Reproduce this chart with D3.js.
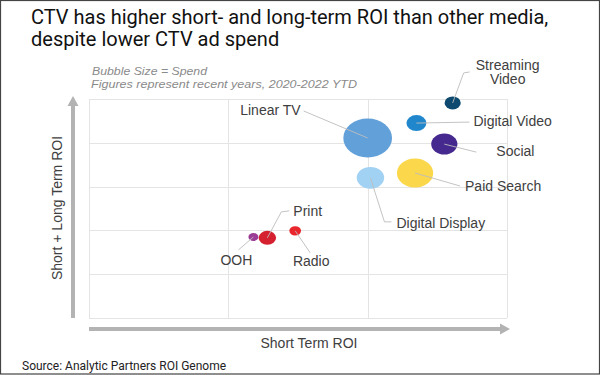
<!DOCTYPE html>
<html lang="en">
<head>
<meta charset="UTF-8">
<title>CTV ROI bubble chart</title>
<script src="https://cdnjs.cloudflare.com/ajax/libs/d3/7.8.5/d3.min.js"></script>
<style>
    body { margin: 0; background: #fff; }
    svg { display: block; }
    .title { font-family: Roboto, "Noto Sans", sans-serif; font-size: 20px; fill: #111; }
    .note { font-family: "Liberation Sans", Arial, sans-serif; font-style: italic; font-size: 11.5px; fill: #8a8a8a; }
    .lbl { font-family: "Liberation Sans", Arial, sans-serif; font-size: 14px; fill: #404040; }
    .source { font-family: Roboto, "Noto Sans", sans-serif; font-size: 12px; fill: #222; }
</style>
</head>
<body>
<svg id="chart"></svg>
<script>
// Data
const media = ["Linear TV", "Streaming Video", "Digital Video", "Social", "Paid Search",
               "Digital Display", "Print", "OOH", "Radio"];
const shortRoi = [2.0, 2.61, 2.35, 2.55, 2.34, 2.02, 1.28, 1.18, 1.48];
const totalRoi = [4.11, 4.91, 4.45, 3.97, 3.31, 3.20, 1.83, 1.85, 1.99];
const spend = [38, 4.2, 6.4, 11, 21, 12, 4.9, 1.6, 2.2];
const xTicks = [0, 1, 2, 3];
const yTicks = [0, 1, 2, 3, 4, 5];

// Colours
const COLORS = {
    "Linear TV": "#62a0da",
    "Streaming Video": "#0e4a70",
    "Digital Video": "#2187cd",
    "Social": "#45298e",
    "Paid Search": "#fbd74b",
    "Digital Display": "#a2d2f3",
    "Print": "#d4202f",
    "OOH": "#9b3d96",
    "Radio": "#e8262b"
};

// Label placement: leader bend points and text position, relative to bubble centre
const LABELS = {
    "Linear TV":       { leader: [[-64, -27]], text: [-67, -27], anchor: "end" },
    "Streaming Video": { leader: [[11, -30], [17, -31]], text: [55, -37], anchor: "middle", lines: ["Streaming", "Video"] },
    "Digital Video":   { leader: [[53, -1]], text: [57, -1], anchor: "start" },
    "Social":          { leader: [[32, 8]], text: [52, 8], anchor: "start" },
    "Paid Search":     { leader: [[45, 13]], text: [50, 14], anchor: "start" },
    "Digital Display": { leader: [[14, 44], [21, 44]], text: [26, 46], anchor: "start" },
    "Print":           { leader: [[14, -26], [22, -27]], text: [26, -26], anchor: "start" },
    "OOH":             { leader: [[-15, 13]], text: [-17, 24], anchor: "middle" },
    "Radio":           { leader: [[15, 22]], text: [16, 31], anchor: "middle" }
};

const width = 600, height = 375;
const plot = { left: 89, right: 507, top: 99, bottom: 318 };
const stretch = 1.25; // bubbles are drawn slightly wider than tall, as in the original

const svg = d3.select("#chart").attr("width", width).attr("height", height);

// Frame
svg.append("rect")
    .attr("x", 0.5).attr("y", 0.5)
    .attr("width", width - 1).attr("height", height - 1.5)
    .attr("fill", "none").attr("stroke", "#444").attr("stroke-width", 1.2);

// Title
const title = svg.append("text").attr("class", "title");
title.append("tspan").attr("x", 31).attr("y", 24).text("CTV has higher short- and long-term ROI than other media,");
title.append("tspan").attr("x", 31).attr("y", 46).text("despite lower CTV ad spend");

// Notes (the original is a little stretched horizontally)
svg.append("text").attr("class", "note").attr("x", 92).attr("y", 75)
    .attr("textLength", 115).attr("lengthAdjust", "spacingAndGlyphs")
    .text("Bubble Size = Spend");
svg.append("text").attr("class", "note").attr("x", 91).attr("y", 88)
    .attr("textLength", 266).attr("lengthAdjust", "spacingAndGlyphs")
    .text("Figures represent recent years, 2020-2022 YTD");

// Scales
const x = d3.scaleLinear().domain([0, 3]).range([plot.left, plot.right]);
const y = d3.scaleLinear().domain([0, 5]).range([plot.bottom, plot.top]);
const r = d3.scaleSqrt().domain([0, 38]).range([0, 19.5]);

// Grid
const grid = svg.append("g").attr("stroke", "#e4e4e4").attr("stroke-width", 1);
grid.selectAll(".gx").data(xTicks).enter().append("line")
    .attr("x1", d => Math.round(x(d)) + 0.5).attr("x2", d => Math.round(x(d)) + 0.5)
    .attr("y1", plot.top).attr("y2", plot.bottom);
grid.selectAll(".gy").data(yTicks).enter().append("line")
    .attr("y1", d => Math.round(y(d)) + 0.5).attr("y2", d => Math.round(y(d)) + 0.5)
    .attr("x1", plot.left).attr("x2", plot.right);

// Axis arrows
const arrowColor = "#b3b3b3";
svg.append("line").attr("x1", 73).attr("x2", 73).attr("y1", plot.bottom).attr("y2", 104)
    .attr("stroke", arrowColor).attr("stroke-width", 4);
svg.append("path").attr("d", "M73,96 L67.5,106 L78.5,106 Z").attr("fill", arrowColor);
svg.append("line").attr("x1", plot.left).attr("x2", 502).attr("y1", 329).attr("y2", 329)
    .attr("stroke", arrowColor).attr("stroke-width", 4);
svg.append("path").attr("d", "M510,329 L500,323.5 L500,334.5 Z").attr("fill", arrowColor);

// Axis titles
svg.append("text").attr("class", "lbl").attr("x", 309).attr("y", 348)
    .attr("text-anchor", "middle").text("Short Term ROI");
svg.append("text").attr("class", "lbl")
    .attr("transform", "translate(62,208) rotate(-90)")
    .attr("text-anchor", "middle").text("Short + Long Term ROI");

// Bubbles data
const points = media.map((m, i) => ({ name: m, sx: shortRoi[i], ty: totalRoi[i], spend: spend[i] }));

// Bubbles, largest first
svg.append("g").selectAll("ellipse")
    .data(points.slice().sort((a, b) => b.spend - a.spend))
    .enter().append("ellipse")
    .attr("cx", d => x(d.sx)).attr("cy", d => y(d.ty))
    .attr("rx", d => r(d.spend) * stretch).attr("ry", d => r(d.spend))
    .attr("fill", d => COLORS[d.name]);

// Leader lines drawn over bubbles (they start at the centre) and labels
const leaders = svg.append("g").attr("fill", "none").attr("stroke", "#bdbdbd").attr("stroke-width", 1);
points.forEach(d => {
    const cx = x(d.sx), cy = y(d.ty), cfg = LABELS[d.name];
    const pts = [[cx, cy]].concat(cfg.leader.map(p => [cx + p[0], cy + p[1]]));
    leaders.append("path").attr("d", d3.line()(pts)).attr("stroke-opacity", 0.9);
    const t = svg.append("text").attr("class", "lbl")
        .attr("text-anchor", cfg.anchor)
        .attr("dominant-baseline", "middle");
    const lines = cfg.lines || [d.name];
    lines.forEach((ln, k) => {
        t.append("tspan")
            .attr("x", cx + cfg.text[0])
            .attr("y", cy + cfg.text[1] + k * 14.5)
            .text(ln);
    });
});

// Source
svg.append("text").attr("class", "source").attr("x", 22).attr("y", 370)
    .text("Source: Analytic Partners ROI Genome");
</script>
</body>
</html>
